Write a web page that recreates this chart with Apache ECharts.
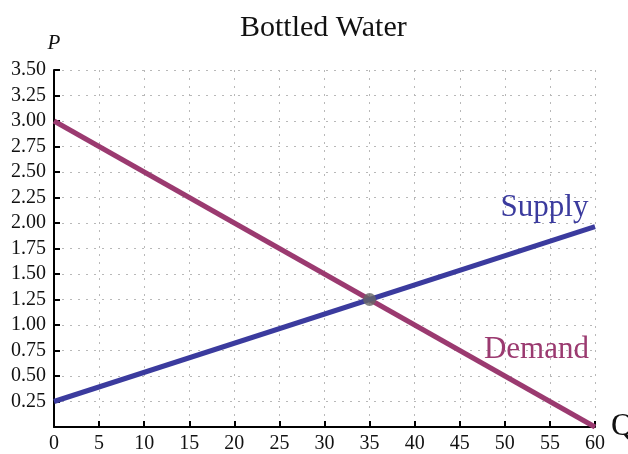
<!DOCTYPE html>
<html><head><meta charset="utf-8">
<script src="https://cdn.jsdelivr.net/npm/echarts@6/dist/echarts.min.js"></script>
<style>html,body{margin:0;padding:0;background:#fff}#c{width:628px;height:454px}</style>
</head><body><div id="c"></div>
<script>
const supplyQ = [0, 60];
const supplyP = [0.25, 1.964];
const demandQ = [0, 60];
const demandP = [3.0, 0.0];
const equilibrium = [35, 1.25];
const supplyLabelPos = [54.4, 2.15];
const demandLabelPos = [53.5, 0.76];
const SUP = '#3b3b9e', DEM = '#9b3a70';
const FONT = '"Liberation Serif", "DejaVu Serif", serif';

const chart = echarts.init(document.getElementById('c'));
chart.setOption({
  animation: false,
  title: { text: 'Bottled Water', left: 235, top: 8, textStyle: { fontFamily: FONT, fontWeight: 'normal', fontSize: 30, color: '#111' } },
  grid: { left: 54, right: 33, top: 70, bottom: 27, outerBoundsMode: 'none', containLabel: false },
  xAxis: {
    type: 'value', min: 0, max: 60, interval: 5,
    name: 'Q', nameLocation: 'end', nameGap: 14,
    nameTextStyle: { fontFamily: FONT, fontSize: 32, color: '#111', verticalAlign: 'middle' },
    axisLine: { onZero: false, lineStyle: { color: '#000', width: 2 } },
    axisTick: { inside: true, length: 6, lineStyle: { color: '#000', width: 2 } },
    axisLabel: { fontFamily: FONT, fontSize: 20, color: '#111', margin: 7 },
    splitLine: { show: true, lineStyle: { color: '#b8b8b8', type: [2, 6], width: 1 } }
  },
  yAxis: {
    type: 'value', min: 0, max: 3.5, interval: 0.25,
    name: 'P', nameLocation: 'end', nameGap: 16,
    nameTextStyle: { fontFamily: FONT, fontStyle: 'italic', fontSize: 21, color: '#111', align: 'center' },
    axisLine: { show: true, onZero: false, lineStyle: { color: '#000', width: 2 } },
    axisTick: { show: true, inside: true, length: 6, lineStyle: { color: '#000', width: 2 } },
    axisLabel: { fontFamily: FONT, fontSize: 20, color: '#111', margin: 8,
      formatter: v => v === 0 ? '' : v.toFixed(2) },
    splitLine: { show: true, lineStyle: { color: '#b8b8b8', type: [2, 6], width: 1 } }
  },
  series: [
    { type: 'line', data: supplyQ.map((q, i) => [q, supplyP[i]]), symbol: 'none',
      lineStyle: { color: SUP, width: 5 }, z: 3,
      markPoint: { symbol: 'circle', symbolSize: 0, data: [{ coord: supplyLabelPos, value: 'Supply' }],
        label: { show: true, formatter: 'Supply', fontFamily: FONT, fontSize: 31, color: SUP } } },
    { type: 'line', data: demandQ.map((q, i) => [q, demandP[i]]), symbol: 'none',
      lineStyle: { color: DEM, width: 5 }, z: 2,
      markPoint: { symbol: 'circle', symbolSize: 0, data: [{ coord: demandLabelPos, value: 'Demand' }],
        label: { show: true, formatter: 'Demand', fontFamily: FONT, fontSize: 31, color: DEM } } },
    { type: 'scatter', data: [equilibrium], symbol: 'circle', symbolSize: 13,
      itemStyle: { color: '#666' }, z: 5 }
  ]
});
</script></body></html>
